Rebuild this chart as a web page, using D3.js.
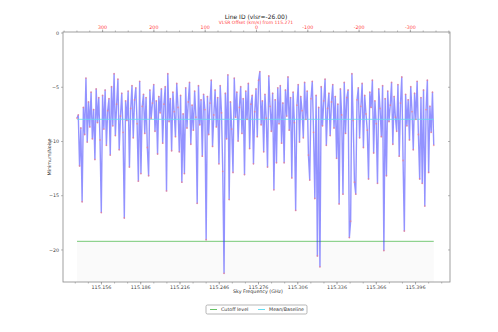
<!DOCTYPE html>
<html><head><meta charset="utf-8">
<script src="https://cdn.jsdelivr.net/npm/d3@7"></script>
<style>body{margin:0;background:#fff}svg{display:block}text{font-family:"DejaVu Sans",sans-serif}</style>
</head><body><svg id="c" width="498" height="332"></svg>
<script>
// ---- data ----
const freqStart = 115.1377;      // GHz, first channel
const chanWidth = 0.000977;      // GHz per channel
const values = [
 -7.9,-7.6,-12.3,-8.8,-15.6,-6.9,-9.4,-4.2,-10.1,-6.4,-8.7,-5.5,-9.8,-7.1,-11.7,-5.2,-8.3,-6.0,-9.9,-16.6,
 -5.8,-8.9,-5.3,-10.4,-7.2,-6.1,-11.3,-5.0,-8.6,-3.8,-9.5,-6.6,-4.3,-10.8,-7.7,-5.6,-9.2,-17.1,-6.3,-8.1,
 -5.4,-12.4,-7.0,-4.9,-9.7,-6.2,-5.1,-8.4,-13.7,-4.5,-13.0,-6.8,-5.7,-9.3,-6.0,-10.6,-13.2,-5.3,-7.9,-6.5,
 -4.8,-9.1,-6.3,-11.2,-5.9,-7.4,-5.2,-10.2,-6.6,-5.0,-14.6,-3.8,-8.2,-6.1,-10.9,-5.5,-7.3,-9.6,-4.7,-6.9,
 -11.0,-5.8,-13.8,-7.5,-13.0,-5.1,-8.8,-6.4,-4.6,-10.3,-6.7,-9.0,-5.4,-7.8,-15.75,-4.9,-8.5,-6.2,-11.4,-5.7,
 -7.1,-19.1,-5.9,-9.4,-6.5,-4.4,-10.5,-7.6,-5.3,-8.7,-6.0,-12.1,-4.9,-7.4,-12.8,-22.2,-5.6,-9.8,-3.9,-15.4,
 -6.4,-8.9,-12.9,-4.2,-7.8,-5.5,-10.0,-6.9,-5.0,-9.3,-6.1,-13.1,-5.4,-8.0,-4.7,-10.7,-6.6,-5.8,-12.1,-7.3,
 -5.2,-9.6,-4.4,-3.6,-8.5,-6.3,-11.0,-5.7,-7.9,-12.4,-4.0,-6.8,-9.1,-5.6,-14.5,-6.2,-12.0,-5.1,-8.4,-4.9,
 -10.2,-6.5,-12.0,-5.3,-7.7,-4.1,-9.0,-6.0,-13.4,-5.5,-8.3,-16.4,-6.7,-4.8,-10.1,-5.9,-7.2,-9.7,-4.6,-8.0,
 -5.4,-11.3,-13.6,-6.1,-4.5,-9.2,-15.3,-5.8,-20.6,-6.9,-21.6,-5.0,-8.6,-6.3,-4.3,-10.4,-7.0,-5.6,-9.5,-6.4,
 -4.8,-8.8,-5.9,-11.6,-6.6,-15.8,-5.2,-7.6,-14.9,-4.6,-9.3,-6.0,-5.3,-18.9,-17.4,-3.8,-8.1,-13.8,-14.9,-6.2,
 -5.1,-9.7,-6.8,-4.7,-10.6,-5.8,-7.5,-9.0,-13.5,-5.5,-6.9,-4.4,-11.1,-6.3,-8.4,-13.9,-5.2,-7.0,-9.6,-4.9,
 -20.1,-6.1,-13.2,-5.4,-8.2,-6.7,-4.6,-10.3,-5.9,-7.8,-9.1,-4.8,-11.4,-6.5,-4.1,-11.8,-18.3,-5.7,-8.6,-6.2,
 -9.9,-5.0,-7.3,-10.8,-5.6,-8.0,-4.5,-9.4,-13.5,-6.0,-13.9,-5.3,-16.0,-7.1,-4.4,-12.9,-6.8,-9.2,-5.5,-10.4
];
const cutoffLevel = -19.25;
const meanBaseline = -8.0;
const freqTicks = [115.156,115.186,115.216,115.246,115.276,115.306,115.336,115.366,115.396];
const velTicks = [300,200,100,0,-100,-200,-300];
const yTicks = [0,-5,-10,-15,-20];
const restFreq = "115.271";
const titleText = "Line ID (vlsr=-26.00)";

// ---- layout ----
const L=63,R=450,T=32,B=282;
const svg=d3.select("#c");
const x=d3.scaleLinear().domain([115.127,115.4227]).range([L,R]);
const xv=d3.scaleLinear().domain([376.2,-378.2]).range([L,R]);
const y=d3.scaleLinear().domain([-23,0.05]).range([B,T]);
const pts=values.map((v,i)=>({f:freqStart+i*chanWidth,v}));
const f0=pts[0].f, f1=pts[pts.length-1].f;

// shaded region below cutoff
svg.append("rect").attr("x",x(f0)).attr("y",y(cutoffLevel)).attr("width",x(f1)-x(f0))
  .attr("height",B-y(cutoffLevel)).attr("fill","#fafafa");

// cutoff line
svg.append("line").attr("x1",x(f0)).attr("x2",x(f1)).attr("y1",y(cutoffLevel)).attr("y2",y(cutoffLevel))
  .attr("stroke","#66c266").attr("stroke-width",0.9);

// spectrum
svg.append("path").datum(pts).attr("fill","none").attr("stroke","rgba(40,40,255,0.5)").attr("stroke-width",1.4)
  .attr("stroke-linejoin","round")
  .attr("d",d3.line().x(d=>x(d.f)).y(d=>y(d.v)));
svg.append("line").attr("x1",x(f0)).attr("x2",x(f1)).attr("y1",y(meanBaseline)).attr("y2",y(meanBaseline))
  .attr("stroke","rgba(100,220,240,0.8)").attr("stroke-width",1);
svg.append("g").selectAll("circle").data(pts).join("circle")
  .attr("cx",d=>x(d.f)).attr("cy",d=>y(d.v)).attr("r",0.9).attr("fill","rgba(255,120,120,0.6)");

// frame
const ax="#888";
svg.append("rect").attr("x",L).attr("y",T).attr("width",R-L).attr("height",B-T).attr("fill","none").attr("stroke",ax).attr("stroke-width",0.8);

// bottom axis
const minorF=d3.range(115.136,115.42,0.01);
const gb=svg.append("g").attr("transform",`translate(0,${B})`);
gb.call(d3.axisBottom(x).tickValues(minorF).tickSize(1.5).tickFormat(""));
gb.append("g").call(d3.axisBottom(x).tickValues(freqTicks).tickSize(2.5).tickPadding(1).tickFormat(d3.format(".3f")));
// top axis (velocity)
const gt=svg.append("g").attr("transform",`translate(0,${T})`);
gt.call(d3.axisTop(xv).tickValues(d3.range(-375,376,25)).tickSize(1.5).tickFormat(""));
gt.append("g").call(d3.axisTop(xv).tickValues(velTicks).tickSize(2.5).tickPadding(1).tickFormat(d=>String(d)));
// left axis
const gl=svg.append("g").attr("transform",`translate(${L},0)`);
gl.call(d3.axisLeft(y).tickValues(yTicks).tickSize(2).tickPadding(2).tickFormat(d3.format("d")));
// right ticks
const gr=svg.append("g").attr("transform",`translate(${R},0)`);
gr.call(d3.axisLeft(y).tickValues(yTicks).tickSize(2).tickFormat(""));

svg.selectAll(".domain").remove();
svg.selectAll(".tick line").attr("stroke",ax).attr("stroke-width",0.6);
svg.selectAll(".tick text").attr("font-size",4.8).attr("fill","#444").style("font-family","DejaVu Sans");
gt.selectAll(".tick text").attr("fill","#ff4040");

// titles
svg.append("text").attr("x",256).attr("y",19).attr("text-anchor","middle").attr("font-size",6).attr("fill","#222").text(titleText);
svg.append("text").attr("x",256).attr("y",24.3).attr("text-anchor","middle").attr("font-size",4.5).attr("fill","#ff4040")
  .text(`VLSR Offset (km/s) from ${restFreq}`);
svg.append("text").attr("x",258).attr("y",293).attr("text-anchor","middle").attr("font-size",4.8).attr("fill","#333").text("Sky Frequency (GHz)");
svg.append("text").attr("transform","translate(51,157) rotate(-90)").attr("text-anchor","middle").attr("font-size",4.8).attr("fill","#333").text("Minimum/Noise");

// legend
const lg=svg.append("g");
lg.append("rect").attr("x",206).attr("y",305).attr("width",101).attr("height",9).attr("rx",1.5).attr("fill","#fff").attr("stroke","#888").attr("stroke-width",0.6);
const items=[{label:"Cutoff level",color:"#66c266",x:210},{label:"Mean/Baseline",color:"#64dcf0",x:258}];
items.forEach(it=>{
  lg.append("line").attr("x1",it.x).attr("x2",it.x+7).attr("y1",309.5).attr("y2",309.5).attr("stroke",it.color).attr("stroke-width",1);
  lg.append("text").attr("x",it.x+11).attr("y",311.2).attr("font-size",4.8).attr("fill","#333").text(it.label);
});
</script></body></html>
